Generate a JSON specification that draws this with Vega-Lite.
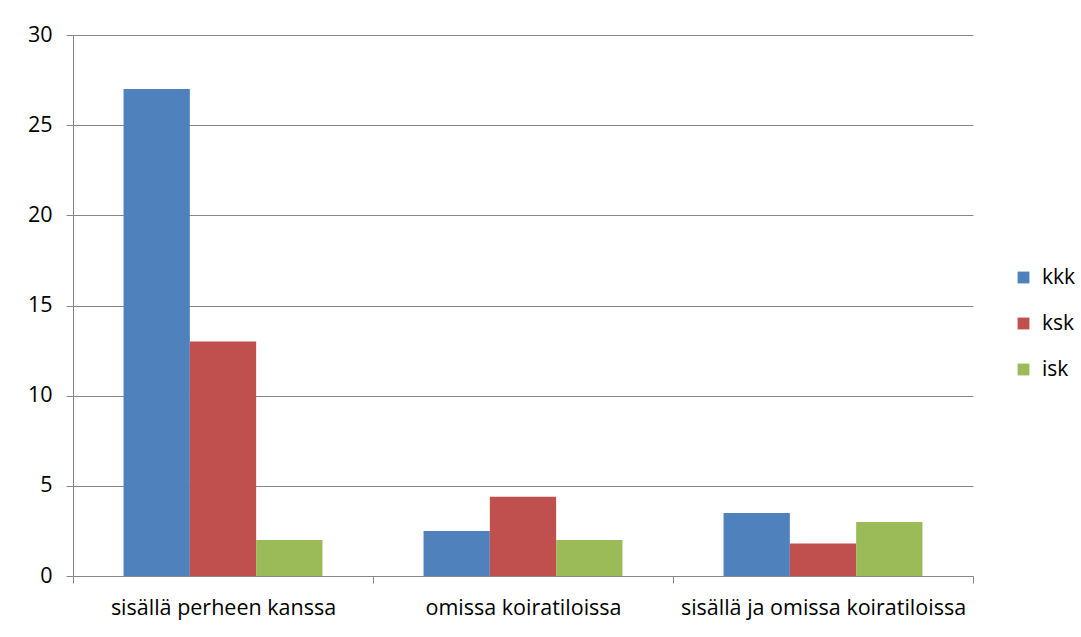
{
  "$schema": "https://vega.github.io/schema/vega-lite/v6.json",
  "width": 900,
  "height": 541,
  "autosize": {"type": "none"},
  "padding": {"left": 73, "top": 35, "right": 108, "bottom": 61},
  "background": "white",
  "config": {
    "view": {"stroke": null},
    "font": "Open Sans",
    "axis": {"labelFont": "Open Sans", "labelColor": "#000000", "domainColor": "#868686", "tickColor": "#868686", "gridColor": "#868686", "labelFontSize": 21.5, "labelLimit": 0},
    "legend": {"labelFont": "Open Sans", "labelFontSize": 21, "labelColor": "#000000", "labelLimit": 0}
  },
  "data": {
    "values": [
      {"paikka": "sisällä perheen kanssa", "ryhmä": "kkk", "arvo": 27},
      {"paikka": "sisällä perheen kanssa", "ryhmä": "ksk", "arvo": 13},
      {"paikka": "sisällä perheen kanssa", "ryhmä": "isk", "arvo": 2},
      {"paikka": "omissa koiratiloissa", "ryhmä": "kkk", "arvo": 2.5},
      {"paikka": "omissa koiratiloissa", "ryhmä": "ksk", "arvo": 4.4},
      {"paikka": "omissa koiratiloissa", "ryhmä": "isk", "arvo": 2},
      {"paikka": "sisällä ja omissa koiratiloissa", "ryhmä": "kkk", "arvo": 3.5},
      {"paikka": "sisällä ja omissa koiratiloissa", "ryhmä": "ksk", "arvo": 1.8},
      {"paikka": "sisällä ja omissa koiratiloissa", "ryhmä": "isk", "arvo": 3}
    ]
  },
  "mark": {"type": "bar"},
  "encoding": {
    "x": {
      "field": "paikka", "type": "nominal",
      "sort": ["sisällä perheen kanssa", "omissa koiratiloissa", "sisällä ja omissa koiratiloissa"],
      "scale": {"paddingInner": 0, "paddingOuter": 0},
      "axis": {"title": null, "labelAngle": 0, "tickBand": "extent", "tickSize": 7, "labelPadding": 14, "grid": false}
    },
    "xOffset": {"field": "ryhmä", "type": "nominal", "sort": ["kkk", "ksk", "isk"], "scale": {"paddingInner": 0, "paddingOuter": 0.7625}},
    "y": {
      "field": "arvo", "type": "quantitative",
      "scale": {"domain": [0, 30], "nice": false},
      "axis": {"title": null, "values": [0, 5, 10, 15, 20, 25, 30], "tickSize": 7, "labelPadding": 14, "grid": true}
    },
    "color": {
      "field": "ryhmä", "type": "nominal",
      "sort": ["kkk", "ksk", "isk"],
      "scale": {"domain": ["kkk", "ksk", "isk"], "range": ["#4F81BD", "#C0504D", "#9BBB59"]},
      "legend": {"title": null, "orient": "none", "legendX": 940, "legendY": 232, "symbolType": "square", "symbolSize": 140, "symbolStrokeWidth": 0, "rowPadding": 24, "labelOffset": 8}
    }
  }
}
